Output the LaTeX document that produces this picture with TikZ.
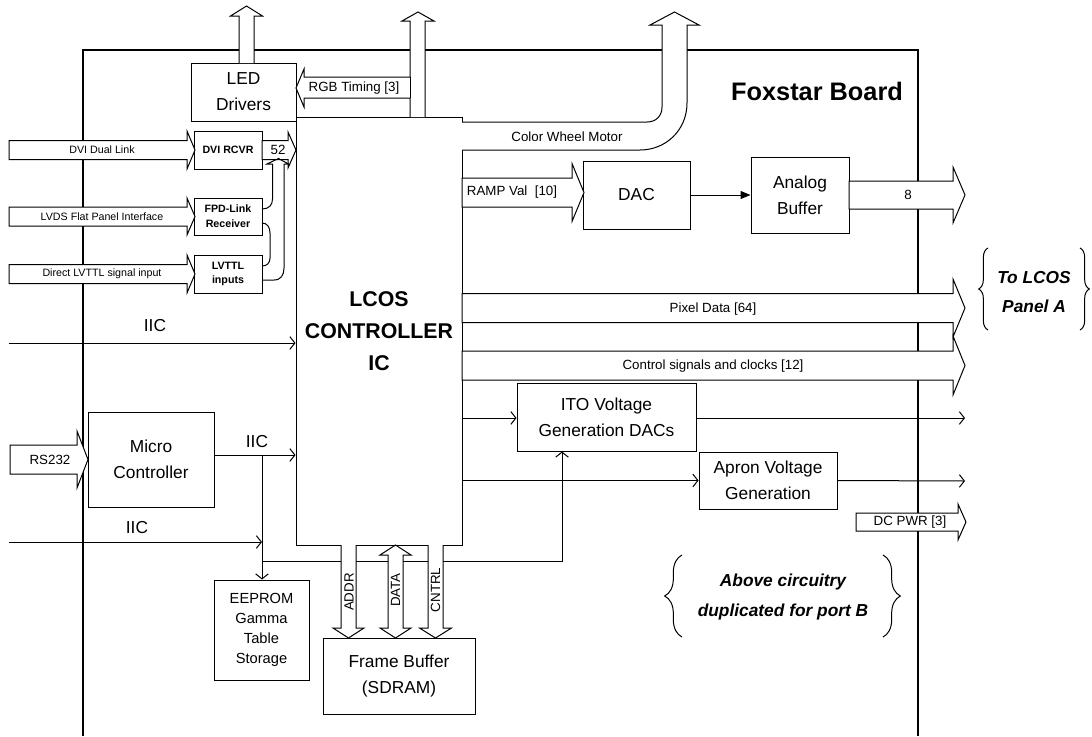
\documentclass[tikz,border=0pt]{standalone}
\usepackage{fontspec}
\setmainfont{Liberation Sans}
\usetikzlibrary{arrows.meta,decorations.pathreplacing,calc}
% horizontal fat arrow: x1, x2(tip), yc, half shaft, half head, head length
\newcommand\FatR[6]{\draw[fat] (#1,{#3-#4}) -- ({#2-#6},{#3-#4}) -- ({#2-#6},{#3-#5}) -- (#2,#3) -- ({#2-#6},{#3+#5}) -- ({#2-#6},{#3+#4}) -- (#1,{#3+#4}) -- cycle;}
% vertical fat arrow up: xc, ybottom, ytip, hs, hh, hl
\newcommand\FatU[6]{\draw[fat] ({#1-#4},#2) -- ({#1-#4},{#3+#6}) -- ({#1-#5},{#3+#6}) -- (#1,#3) -- ({#1+#5},{#3+#6}) -- ({#1+#4},{#3+#6}) -- ({#1+#4},#2);}
% vertical fat arrow down: xc, ytop, ytip, hs, hh, hl
\newcommand\FatD[6]{\draw[fat] ({#1-#4},#2) -- ({#1-#4},{#3-#6}) -- ({#1-#5},{#3-#6}) -- (#1,#3) -- ({#1+#5},{#3-#6}) -- ({#1+#4},{#3-#6}) -- ({#1+#4},#2);}
% box from corners: [style] name, x1, y1, x2, y2, text
\newcommand\BX[7][box]{\node[#1, minimum width={(#5-#3)*0.75pt}, minimum height={(#6-#4)*0.75pt}] (#2) at ({(#3+#5)/2},{(#4+#6)/2}) {#7};}
\begin{document}
\begin{tikzpicture}[x=0.75pt,y=-0.75pt,
 board/.style={line width=1.1pt},
 box/.style={draw, line width=0.75pt, inner sep=0pt, align=center, font=\fontsize{13}{19.5}\selectfont},
 sbox/.style={box, font=\bfseries\fontsize{8}{11}\selectfont},
 ebox/.style={box, font=\fontsize{11}{15}\selectfont},
 fbox/.style={box, font=\fontsize{13}{20}\selectfont},
 fat/.style={draw, fill=white, line width=0.75pt, line join=miter},
 lbl/.style={inner sep=0pt, font=\fontsize{10}{12}\selectfont},
 tiny/.style={inner sep=0pt, font=\fontsize{8}{10}\selectfont},
 big/.style={inner sep=0pt, font=\fontsize{13}{16}\selectfont},
 sig/.style={line width=0.75pt, -{Straight Barb[length=3.75pt,width=9.5pt]}},
 wire/.style={line width=0.75pt},
 brc/.style={line width=0.75pt, decorate, decoration={brace, amplitude=#1}},
 note/.style={inner sep=0pt, align=center, font=\bfseries\itshape\fontsize{13}{22}\selectfont},
]
\useasboundingbox (0,0) rectangle (1092,736);
% board outline
\draw[board] (83,736) -- (83,50) -- (918,50) -- (918,736);
\node[inner sep=0pt, font=\bfseries\fontsize{19}{22}\selectfont] (title) at (817,91) {Foxstar Board};

% boxes
\BX{led}{191}{63}{296}{121}{LED\\Drivers}
\BX[sbox]{dvi}{194}{131}{262}{169}{DVI RCVR}
\BX[sbox]{fpd}{194}{198}{262}{235}{FPD-Link\\Receiver}
\BX[sbox]{lvttl}{194}{255}{262}{293}{LVTTL\\inputs}
\BX{lcos}{296}{117}{462}{545}{}
\node[inner sep=0pt, align=center, font=\bfseries\fontsize{16}{24}\selectfont] (lcostxt) at (379,331) {LCOS\\CONTROLLER\\IC};
\BX{dac}{583}{161}{690}{229}{DAC}
\BX{analog}{751}{157}{849}{233}{Analog\\Buffer}
\BX{ito}{517}{383}{696}{451}{ITO Voltage\\Generation DACs}
\BX{apron}{699}{452}{837}{509}{Apron Voltage\\Generation}
\BX{micro}{88}{412}{214}{507}{Micro\\Controller}
\BX[ebox]{eeprom}{214}{580}{309}{680}{EEPROM\\Gamma\\Table\\Storage}
\BX[fbox]{fb}{323}{638}{475}{714}{Frame Buffer\\(SDRAM)}

% LED up arrow
\FatU{246.5}{63}{6}{7.5}{16}{10}
% RGB timing + up arrow from controller
\draw[fat] (425,117) -- (425,21) -- (434,21) -- (418,12) -- (402,21) -- (410,21) -- (410,77) -- (304,77) -- (304,69) -- (296,88) -- (304,107) -- (304,98) -- (410,98) -- (410,117);
\draw[wire] (410,77) -- (410,98);
\node[lbl] (trgb) at (354,88) {RGB Timing [3]};
% colour wheel motor
\draw[fat] (462,122) -- (647,122) .. controls (656,122) and (662,116) .. (662,107) -- (662,25) -- (650,25) -- (674.5,12) -- (699,25) -- (687,25) -- (687,103) .. controls (687,130) and (666,150) .. (640,150) -- (462,150);
\node[lbl] (tcwm) at (567,137) {Color Wheel Motor};

% inputs
\FatR{9}{195}{150}{9.5}{19}{8}
\node[tiny] (tdvi) at (102,150) {DVI Dual Link};
\FatR{9}{195}{216.5}{9.5}{18.5}{8}
\node[tiny] (tlvds) at (102,216.5) {LVDS Flat Panel Interface};
\FatR{9}{195}{274}{9.5}{19}{8}
\node[tiny] (tlvttl) at (102,274) {Direct LVTTL signal input};
% 52 bus
\FatR{262}{296}{150}{9.5}{18}{8}
\node[lbl] (t52) at (278,150) {52};
% merged bus from FPD-Link and LVTTL
\draw[wire] (262,280) -- (274,280) .. controls (281,280) and (284,275) .. (284,268) -- (284,164) -- (288.5,164) -- (278.5,158.5) -- (267,164) -- (272.5,164) -- (272.5,199) .. controls (272.5,205) and (269,209) .. (262,209);
\draw[wire] (262,223) .. controls (267,223) and (270,227) .. (270,233) -- (270,258) .. controls (270,263) and (267,266) .. (262,266);

% outputs to the right
\FatR{462}{584}{192.5}{14.5}{29}{12}
\node[lbl] (tramp) at (512,192.5) {RAMP Val\ \ [10]};
\draw[line width=0.75pt, -{Triangle[length=7.5pt,width=6pt]}] (dac) -- (analog);
\FatR{849}{965}{195}{14}{28}{12}
\node[lbl] (t8) at (908,195) {8};
\FatR{462}{965}{365.5}{14.5}{29.5}{12}
\node[lbl] (tctl) at (713,366) {Control signals and clocks [12]};
\FatR{462}{965}{308}{14.5}{29}{12}
\node[lbl] (tpix) at (713,309) {Pixel Data [64]};
\FatR{856}{966}{522}{9}{18}{8}
\node[lbl] (tdc) at (910,522) {DC PWR [3]};

\coordinate (itoout) at (965,418);
\coordinate (apout) at (965,481);
\draw[sig] (lcos.east |- 0,418) -- (ito.west |- 0,418);
\draw[sig] (ito.east |- 0,418) -- (itoout);
\draw[sig] (lcos.east |- apron.west) -- (apron.west);
\draw[sig] (apron.east) -- (apout);

% left side IIC / RS232
\FatR{10}{88}{459.5}{14.5}{28.5}{11}
\node[lbl] (trs) at (50,459.5) {RS232};
\coordinate (iic1) at (9,343);
\draw[sig] (iic1) -- (lcos.west |- iic1);
\node[big] (tiic1) at (155,326) {IIC};
\coordinate (j1) at (262,455);
\draw[wire] (micro.east |- j1) -- (j1);
\draw[sig] (j1) -- (lcos.west |- j1);
\node[big] (tiic2) at (257,442) {IIC};
\draw[sig] (j1) -- (eeprom.north -| j1);
\coordinate (iic3) at (9,542);
\draw[sig] (iic3) -- (j1 |- iic3);
\node[big] (tiic3) at (137,528) {IIC};
\coordinate (j2) at (262,561);
\coordinate (j3) at (562,561);
\draw[sig] (j2) -- (j3) -- (j3 |- ito.south);

% memory bus
\FatD{348.5}{545}{638}{7.5}{15.5}{10}
\FatD{435.5}{545}{638}{7.5}{16}{10}
\draw[fat] (388,555) -- (380,555) -- (395.5,545) -- (411,555) -- (403,555) -- (403,628) -- (411,628) -- (395.5,638) -- (380,628) -- (388,628) -- cycle;
\node[lbl, rotate=90] (taddr) at (349,592) {ADDR};
\node[lbl, rotate=90] (tdata) at (395.5,590) {DATA};
\node[lbl, rotate=90] (tcntrl) at (435.5,590) {CNTRL};

% notes with braces
\draw[brc=7pt] (988,330) -- (988,248);
\draw[brc=7pt] (1080,248) -- (1080,330);
\node[note] (tlcos) at (1034,292) {To LCOS\\Panel A};
\draw[brc=13pt] (682,637) -- (682,555);
\draw[brc=13pt] (883,555) -- (883,637);
\node[note] (tabove) at (783,597) {Above circuitry\\duplicated for port B};
\end{tikzpicture}
\end{document}
